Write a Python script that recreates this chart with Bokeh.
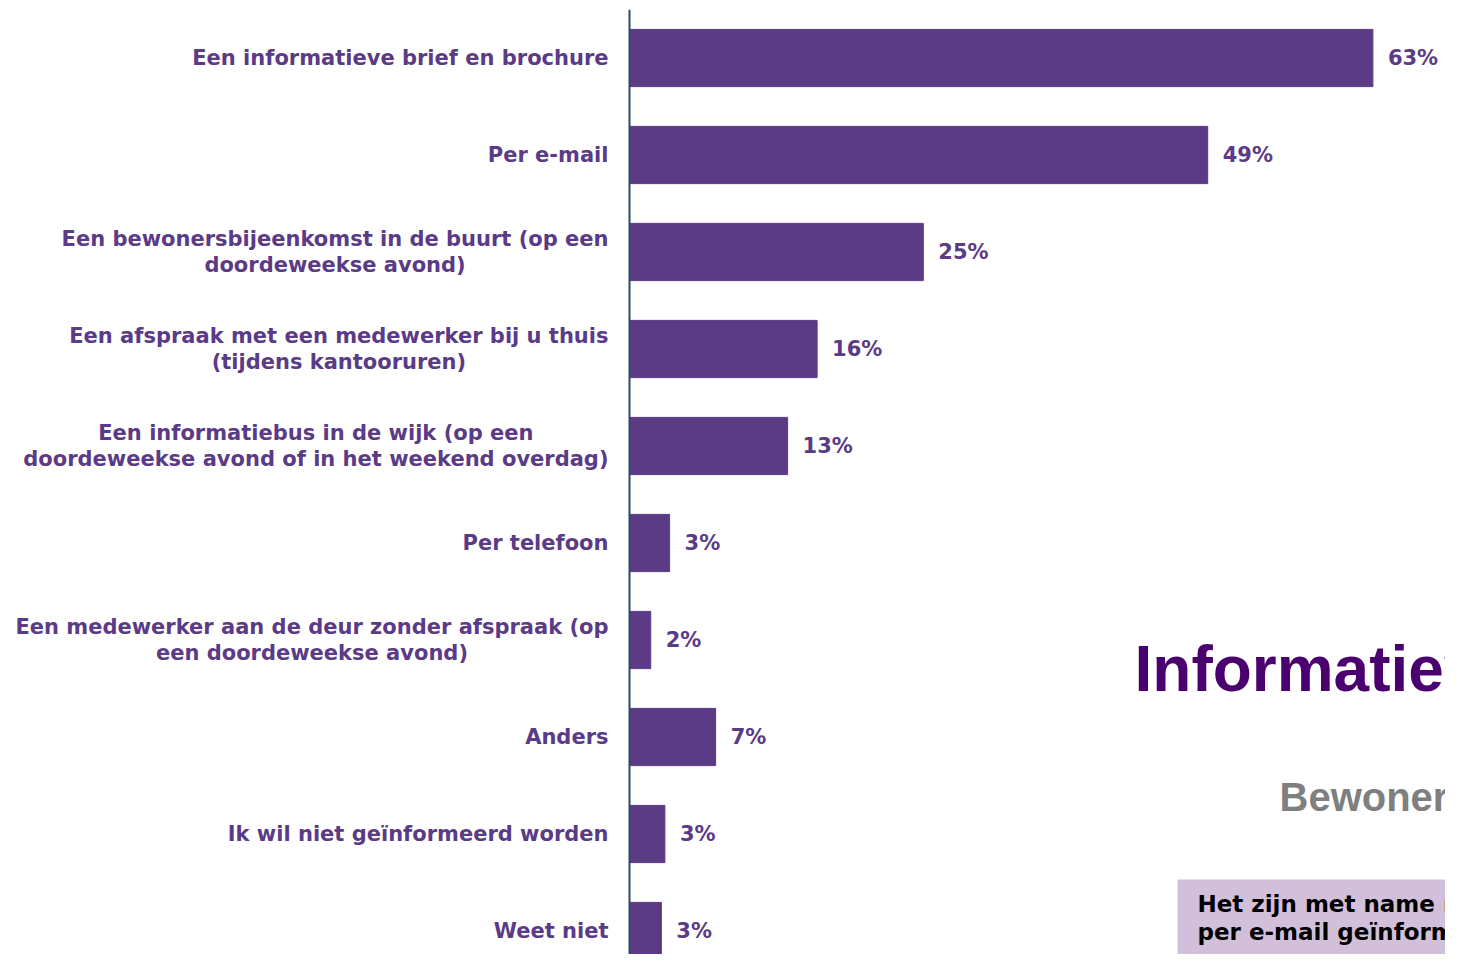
from bokeh.plotting import figure
from bokeh.models import Range1d, Label, BoxAnnotation, ColumnDataSource, Span
from bokeh.core.properties import value
from bokeh.embed import file_html
from bokeh.resources import INLINE

categories = [
    "Een informatieve brief en brochure",
    "Per e-mail",
    "Een bewonersbijeenkomst in de buurt (op een\ndoordeweekse avond)",
    "Een afspraak met een medewerker bij u thuis\n(tijdens kantooruren)",
    "Een informatiebus in de wijk (op een\ndoordeweekse avond of in het weekend overdag)",
    "Per telefoon",
    "Een medewerker aan de deur zonder afspraak (op\neen doordeweekse avond)",
    "Anders",
    "Ik wil niet geïnformeerd worden",
    "Weet niet",
]
values = [63.0, 49.0, 24.9, 15.9, 13.4, 3.4, 1.8, 7.3, 3.0, 2.7]
value_labels = ["63%", "49%", "25%", "16%", "13%", "3%", "2%", "7%", "3%", "3%"]

title_text = "Informatiev"
subtitle_text = "Bewoners"
box_lines = ["Het zijn met name r", "per e-mail geïnform"]

BAR = "#5B3A86"
FONT = "DejaVu Sans"

n = len(categories)
ypos = [n - 1 - i for i in range(n)]
src = ColumnDataSource(dict(y=ypos, v=values, cat=categories, lab=value_labels))

W, H = 1445, 954
axis_px = 629
top_px = 9
px_per_unit_x = 11.8
px_per_unit_y = 97.0
x_start = -axis_px / px_per_unit_x
x_end = (W - axis_px) / px_per_unit_x
y_end = n - 0.5
y_start = y_end - (H - top_px) / px_per_unit_y

p = figure(width=W, height=H, output_backend="svg", toolbar_location=None,
           x_range=Range1d(x_start, x_end), y_range=Range1d(y_start, y_end),
           x_axis_location=None, y_axis_location=None,
           min_border_left=0, min_border_right=0,
           min_border_top=top_px, min_border_bottom=0)
p.grid.visible = False
p.outline_line_color = None
p.background_fill_color = "white"
p.border_fill_color = "white"

p.hbar(y="y", left=0, right="v", height=0.59, source=src,
       fill_color=BAR, line_color=BAR)

p.add_layout(Span(location=0, dimension="height", line_color="#2F4A63",
                  line_width=2))

p.text(x=0, y="y", text="cat", source=src, x_offset=-21,
       anchor="center_right", text_align="center", text_baseline="middle",
       text_font=value(FONT), text_font_style="bold", text_font_size="21px",
       text_line_height=1.05, text_color=BAR)

p.text(x="v", y="y", text="lab", source=src, x_offset=15,
       text_align="left", text_baseline="middle",
       text_font=value(FONT), text_font_style="bold", text_font_size="21px",
       text_color=BAR)


def dx(px):
    return (px - axis_px) / px_per_unit_x


def dy(py):
    return y_end - (py - top_px) / px_per_unit_y


p.add_layout(Label(x=dx(1134), y=dy(668), text=title_text,
                   text_font="Liberation Sans", text_font_style="bold",
                   text_font_size="64px", text_color="#4B0070",
                   text_baseline="alphabetic"))
p.add_layout(Label(x=dx(1279), y=dy(796), text=subtitle_text,
                   text_font="Liberation Sans", text_font_style="bold",
                   text_font_size="40px", text_color="#7F7F7F",
                   text_baseline="alphabetic"))
p.add_layout(BoxAnnotation(left=dx(1177), top=dy(879),
                           fill_color="#D2BFDA", fill_alpha=1.0,
                           line_color=None, level="underlay"))
p.add_layout(Label(x=dx(1197), y=dy(903), text=box_lines[0],
                   text_font=FONT, text_font_style="bold",
                   text_font_size="23px", text_color="black",
                   text_baseline="alphabetic"))
p.add_layout(Label(x=dx(1197), y=dy(931), text=box_lines[1],
                   text_font=FONT, text_font_style="bold",
                   text_font_size="23px", text_color="black",
                   text_baseline="alphabetic"))

open("out.html", "w").write(file_html(p, INLINE))
